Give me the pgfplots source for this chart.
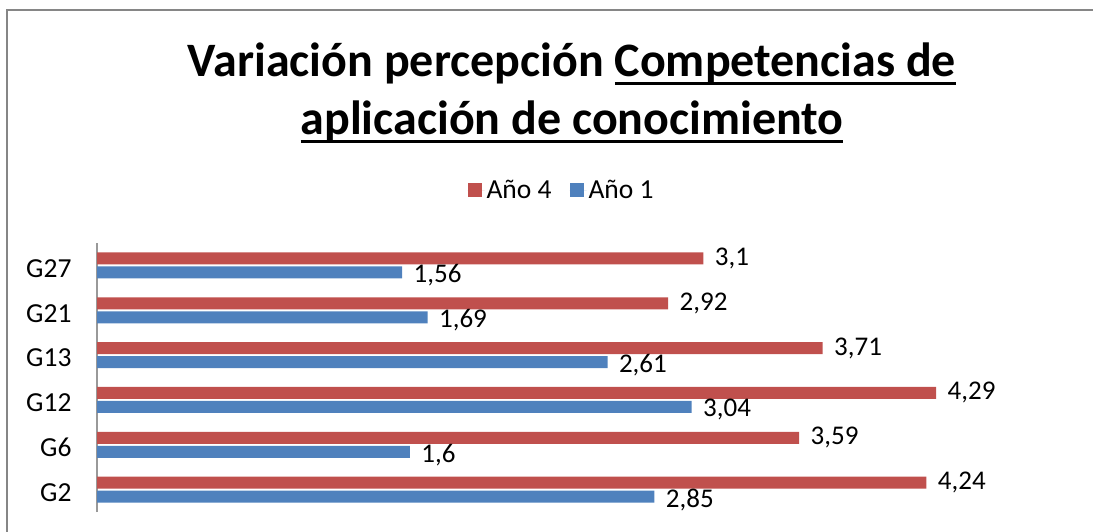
\documentclass[border=0pt]{standalone}
\usepackage{fontspec}
\setmainfont{Carlito}
\usepackage{pgfplots}
\pgfplotsset{compat=1.18}
\definecolor{rojo}{RGB}{192,80,77}
\definecolor{azul}{RGB}{79,129,189}
\definecolor{marco}{RGB}{134,134,134}
% subrayado tipo Word: a distancia fija de la linea base
\newcommand\ul[1]{\setbox0\hbox{#1}\rlap{\rule[-8pt]{\wd0}{2.8pt}}\box0}
\begin{document}
\begin{tikzpicture}[x=1pt,y=1pt]
\useasboundingbox (0,0) rectangle (1093,-532);
\draw[marco, line width=1.5pt] (7,-545) -- (7,-10) -- (1110,-10);
\node[font=\fontsize{48}{55}\selectfont\bfseries, anchor=base, inner sep=0pt] at (572,-77)
  {Variación percepción \ul{Competencias de}};
\node[font=\fontsize{48}{55}\selectfont\bfseries, anchor=base, inner sep=0pt] at (572,-135)
  {\ul{aplicación de conocimiento}};
\begin{axis}[
    at={(97pt,-512pt)}, anchor=south west,
    xbar, scale only axis,
    width=978pt, height=269pt,
    xmin=0, xmax=5, ymin=-0.5, ymax=5.5,
    axis x line=none, axis y line=left,
    axis line style={-, draw=gray!80, line width=1.2pt},
    ytick={0,...,5}, yticklabels={G2,G6,G12,G13,G21,G27},
    major tick length=0pt,
    yticklabel style={font=\fontsize{27.5}{32}\selectfont, xshift=-22pt, yshift=-3pt},
    bar width=12pt,
    nodes near coords,
    nodes near coords style={font=\fontsize{27}{32}\selectfont, anchor=west, xshift=8pt, black},
    /pgf/number format/use comma,
    /pgf/number format/assume math mode=true,
    legend style={at={(0.475,1.197)}, anchor=center, draw=none, legend columns=2,
      font=\fontsize{27.5}{32}\selectfont,
      /tikz/every even column/.append style={column sep=16pt}},
    legend image code/.code={\fill[#1] (0pt,-7pt) rectangle (14pt,7pt); \path (0pt,0pt) -- (17pt,0pt);},
]
\addplot[fill=rojo, draw=none, bar shift=7pt] coordinates {(4.24,0) (3.59,1) (4.29,2) (3.71,3) (2.92,4) (3.1,5)};
\addplot[fill=azul, draw=none, bar shift=-7pt, nodes near coords style={yshift=-3pt}] coordinates {(2.85,0) (1.6,1) (3.04,2) (2.61,3) (1.69,4) (1.56,5)};
\legend{Año 4, Año 1}
\end{axis}
\end{tikzpicture}
\end{document}
